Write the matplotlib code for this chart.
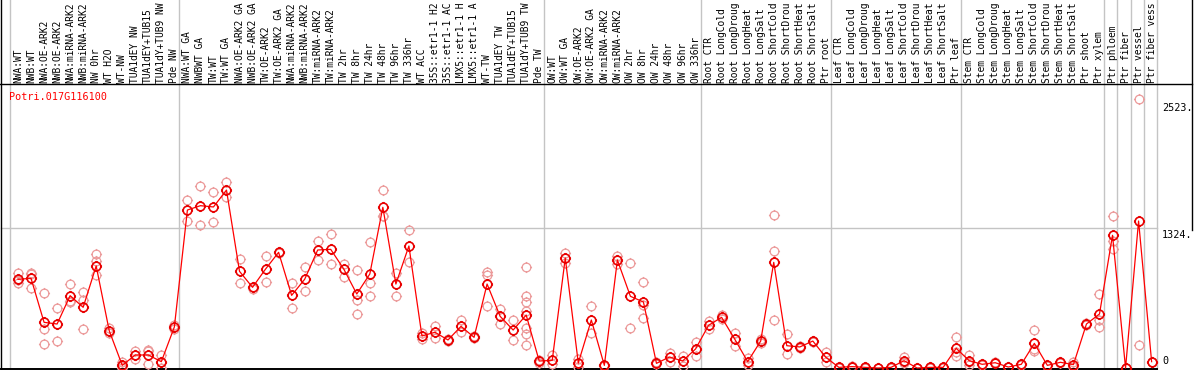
import numpy as np
import matplotlib
matplotlib.use("Agg")
import matplotlib.pyplot as plt
from matplotlib.path import Path

# sample names as shown in the header (cut off like in the picture)
labels = ["NWA:WT", "NWB:WT", "NWA:OE-ARK2", "NWB:OE-ARK2", "NWA:miRNA-ARK2", "NWB:miRNA-ARK2",
          "NW 0hr", "WT H2O", "WT-NW", "TUA1dEY NW", "TUA1dEY+TUB15", "TUA1dY+TUB9 NW", "Pde NW",
          "NWA:WT GA", "NWBWT GA", "TW:WT", "TW:WT GA", "NWA:OE-ARK2 GA", "NWB:OE-ARK2 GA",
          "TW:OE-ARK2", "TW:OE-ARK2 GA", "NWA:miRNA-ARK2", "NWB:miRNA-ARK2", "TW:miRNA-ARK2",
          "TW:miRNA-ARK2", "TW 2hr", "TW 8hr", "TW 24hr", "TW 48hr", "TW 96hr", "TW 336hr",
          "WT ACC", "35S::etr1-1 H2", "35S::etr1-1 AC", "LMX5::etr1-1 H", "LMX5::etr1-1 A",
          "WT-TW", "TUA1dEY TW", "TUA1dEY+TUB15", "TUA1dY+TUB9 TW", "Pde TW",
          "OW:WT", "OW:WT GA", "OW:OE-ARK2", "OW:OE-ARK2 GA", "OW:miRNA-ARK2", "OW:miRNA-ARK2",
          "OW 2hr", "OW 8hr", "OW 24hr", "OW 48hr", "OW 96hr", "OW 336hr",
          "Root CTR", "Root LongCold", "Root LongDroug", "Root LongHeat", "Root LongSalt",
          "Root ShortCold", "Root ShortDrou", "Root ShortHeat", "Root ShortSalt", "Ptr root",
          "Leaf CTR", "Leaf LongCold", "Leaf LongDroug", "Leaf LongHeat", "Leaf LongSalt",
          "Leaf ShortCold", "Leaf ShortDrou", "Leaf ShortHeat", "Leaf ShortSalt", "Ptr leaf",
          "Stem CTR", "Stem LongCold", "Stem LongDroug", "Stem LongHeat", "Stem LongSalt",
          "Stem ShortCold", "Stem ShortDrou", "Stem ShortHeat", "Stem ShortSalt",
          "Ptr shoot", "Ptr xylem", "Ptr phloem", "Ptr fiber", "Ptr vessel", "Ptr fiber vess"]

means = [839, 848, 432, 416, 684, 574, 965, 353, 25, 123, 123, 60, 388,
         1494, 1535, 1523, 1683, 914, 763, 936, 1094, 687, 839, 1116, 1122, 936,
         700, 889, 1520, 794, 1154, 303, 338, 265, 394, 290, 794, 489, 359, 501, 66,
         72, 1040, 47, 454, 25, 1021, 678, 624, 44, 104, 66, 180,
         404, 479, 274, 60, 255, 999, 211, 199, 255, 101,
         6, 13, 6, 0, 6, 69, 0, 6, 6, 186,
         69, 35, 50, 9, 35, 233, 25, 54, 32,
         416, 511, 1255, 0, 1390, 60]

reps = [[901, 807, 830], [901, 754, 890], [706, 366, 224], [564, 258], [794, 636, 622],
        [716, 640, 366], [1078, 1010, 880], [380, 330], [55, 0, 20], [164, 82, 123],
        [170, 35, 165], [120, 0, 60], [410, 370],
        [1589, 1390], [1718, 1349], [1662, 1378], [1756, 1614], [1031, 807], [770, 750],
        [1059, 813], [1100, 1088], [804, 564], [952, 728], [1201, 1018], [1267, 980],
        [980, 864], [924, 640, 511], [1189, 801, 681], [1683, 1437, 1440], [901, 681],
        [1305, 1005], [271, 335], [397, 281], [255, 275], [450, 338], [300, 280],
        [911, 880, 586], [560, 420], [454, 262], [955, 684, 620, 542, 380, 318, 220],
        [80, 50],
        [123, 40], [1091, 990], [85, 10], [586, 328], [30, 20], [1062, 980], [993, 378],
        [810, 600, 470], [55, 35], [145, 60], [110, 20], [243, 113],
        [440, 370], [500, 460], [211, 330], [95, 25], [270, 240], [1444, 1103, 454],
        [322, 129], [210, 185], [260, 250], [154, 60],
        [10, 3], [20, 5], [10, 2], [0, 0], [10, 2], [101, 50, 55], [0, 0], [10, 2],
        [10, 2], [290, 117, 150],
        [123, 30, 55], [40, 30], [55, 45], [12, 6], [40, 30], [359, 164, 175], [30, 20],
        [60, 48], [55, 10],
        [425, 407], [700, 454, 385], [1437, 1200, 1128], [0, 0], [2540, 214], [60, 60]]

group_starts = [0, 13, 41, 53, 63, 73, 84, 85, 86, 87, 88]
y_ticks = [2523, 1324, 0]
gene = "Potri.017G116100"

W, H = 1194, 370
x0, dx = 18, 13.03          # pixel of first sample, pixel step
y0, dy = 368, 1324 / 140    # pixel of zero, value per pixel

def xpix(px):
    return (px - x0) / dx

def ypix(py):
    return (y0 - py) * dy

mono = "DejaVu Sans Mono"
fs = 7.3
fs_head = 6.9   # header names must fit in the 84 px strip

fig = plt.figure(figsize=(W / 100, H / 100), dpi=100)
ax = fig.add_axes([0, 0, 1, 1])
ax.set_xlim(xpix(0), xpix(W))
ax.set_ylim(ypix(H), ypix(0))
ax.axis("off")

# grid lines
for g in group_starts:
    ax.axvline(g - 0.62, color="#c4c4c4", lw=1.0, zorder=1)
ax.plot([xpix(1), xpix(1157)], [1324, 1324], color="#c4c4c4", lw=1.0, zorder=1)

# frame
ax.plot([xpix(0), xpix(1192)], [ypix(84.5), ypix(84.5)], color="black", lw=1.0, zorder=2)
ax.plot([xpix(1), xpix(1157)], [ypix(369), ypix(369)], color="black", lw=1.4, zorder=2)
ax.plot([xpix(1), xpix(1)], [ypix(0), ypix(H)], color="black", lw=1.0, zorder=2)
ax.plot([xpix(1192), xpix(1192)], [ypix(0), ypix(230)], color="black", lw=1.0, zorder=2)

# circle with little ticks, like the original markers
circ = Path.unit_circle()
tk = 1.28
verts = list(circ.vertices) + [(0, 1), (0, tk), (0, -1), (0, -tk), (1, 0), (tk, 0), (-1, 0), (-tk, 0)]
codes = list(circ.codes) + [Path.MOVETO, Path.LINETO] * 4
mk = Path(verts, codes)
ms = 8.0

x = np.arange(len(means))
for i, r in enumerate(reps):
    ax.plot([i] * len(r), r, linestyle="none", marker=mk, markersize=ms,
            markerfacecolor="none", markeredgecolor="#ec9a9a", markeredgewidth=0.9, zorder=3)

ax.plot(x, means, color="#ff0000", lw=0.9, zorder=4)
ax.plot(x, means, linestyle="none", marker=mk, markersize=ms, markerfacecolor="none",
        markeredgecolor="#e80000", markeredgewidth=1.2, zorder=5)

# header labels
for i, lab in enumerate(labels):
    ax.text(i, ypix(83), lab, rotation=90, ha="center", va="bottom", fontsize=fs_head,
            family=mono, color="black", zorder=6)

ax.text(xpix(9), ypix(92), gene, ha="left", va="top", fontsize=fs, family=mono, color="red")

# right axis values
for v in y_ticks:
    txt = f"{v}." if v else "0"
    if v:
        ax.text(xpix(1162), v - 2 * dy, txt, ha="left", va="top", fontsize=fs, family=mono)
    else:
        ax.text(xpix(1162), ypix(366), txt, ha="left", va="bottom", fontsize=fs, family=mono)

fig.savefig("out.png", dpi=100)
